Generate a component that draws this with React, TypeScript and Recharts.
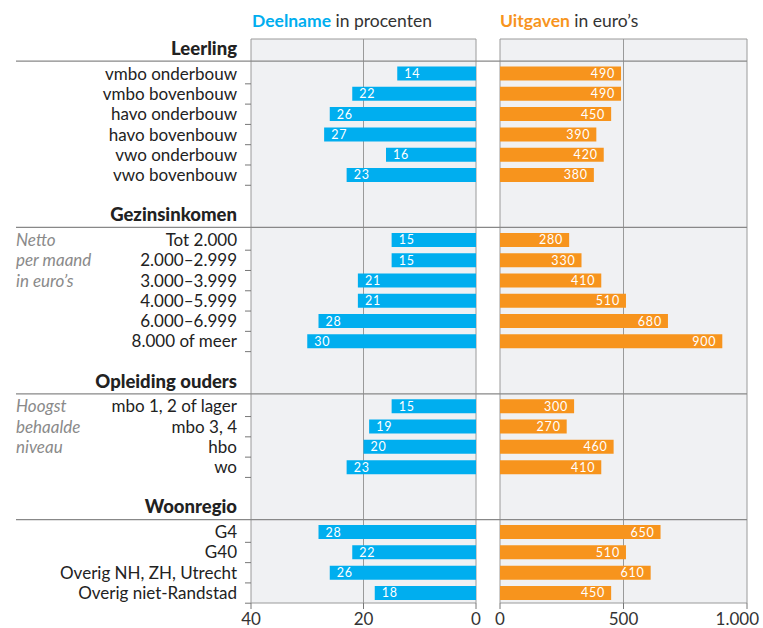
import React from 'react';
import { BarChart, Bar, XAxis, YAxis, CartesianGrid, ReferenceLine, LabelList } from 'recharts';

// groepen en waarden
const groupTitles = ['Leerling', 'Gezinsinkomen', 'Opleiding ouders', 'Woonregio'];

const leerlingLabels = ['vmbo onderbouw', 'vmbo bovenbouw', 'havo onderbouw', 'havo bovenbouw', 'vwo onderbouw', 'vwo bovenbouw'];
const leerlingDeelname = [14, 22, 26, 27, 16, 23];
const leerlingUitgaven = [490, 490, 450, 390, 420, 380];

const inkomenLabels = ['Tot 2.000', '2.000–2.999', '3.000–3.999', '4.000–5.999', '6.000–6.999', '8.000 of meer'];
const inkomenDeelname = [15, 15, 21, 21, 28, 30];
const inkomenUitgaven = [280, 330, 410, 510, 680, 900];

const opleidingLabels = ['mbo 1, 2 of lager', 'mbo 3, 4', 'hbo', 'wo'];
const opleidingDeelname = [15, 19, 20, 23];
const opleidingUitgaven = [300, 270, 460, 410];

const regioLabels = ['G4', 'G40', 'Overig NH, ZH, Utrecht', 'Overig niet-Randstad'];
const regioDeelname = [28, 22, 26, 18];
const regioUitgaven = [650, 510, 610, 450];

const inkomenNote = ['Netto', 'per maand', 'in euro’s'];
const opleidingNote = ['Hoogst', 'behaalde', 'niveau'];

const deelnameTicks = [0, 20, 40];
const uitgavenTicks = [0, 500, 1000];

// layout
const W = 763;
const H = 628;
const TOP = 39;
const BOTTOM = 25;
const PLOT_H = H - TOP - BOTTOM;
const FIRST = 1.71; // positie eerste rij (in rijen)
const GAP = 2.2; // witregel + kop tussen groepen
const DMAX = 27.8;
const ROW = PLOT_H / DMAX;

const BLUE = '#00aeef';
const ORANGE = '#f7941d';
const PANEL = '#f0f1f3';
const GRID = '#9a9a9a';
const TEXT = '#222';

const groups = [
  { title: groupTitles[0], labels: leerlingLabels, deelname: leerlingDeelname, uitgaven: leerlingUitgaven, note: [] as string[] },
  { title: groupTitles[1], labels: inkomenLabels, deelname: inkomenDeelname, uitgaven: inkomenUitgaven, note: inkomenNote },
  { title: groupTitles[2], labels: opleidingLabels, deelname: opleidingDeelname, uitgaven: opleidingUitgaven, note: opleidingNote },
  { title: groupTitles[3], labels: regioLabels, deelname: regioDeelname, uitgaven: regioUitgaven, note: [] as string[] },
];

const rows: { label: string; pos: number; deelname: number; uitgaven: number }[] = [];
const heads: { title: string; pos: number; note: string[] }[] = [];
let start = FIRST;
groups.forEach((g) => {
  heads.push({ title: g.title, pos: start, note: g.note });
  g.labels.forEach((label, i) => {
    rows.push({ label, pos: start + i, deelname: g.deelname[i], uitgaven: g.uitgaven[i] });
  });
  start += g.labels.length + GAP;
});
const rowTicks = rows.map((r) => r.pos);

const yPix = (p: number) => TOP + p * ROW;

function LeftTick(props: any) {
  const { x, y, payload } = props;
  const row = rows.find((r) => Math.abs(r.pos - payload.value) < 1e-6);
  return (
    <g>
      <text x={x - 14} y={y} dy="0.35em" textAnchor="end" fontSize={17} fill={TEXT}>
        {row ? row.label : ''}
      </text>
      <line x1={x - 6} x2={x} y1={y + ROW / 2} y2={y + ROW / 2} stroke="#777" />
    </g>
  );
}

function RightTick(props: any) {
  const { x, y } = props;
  return (
    <g>
      <line x1={x - 6} x2={x} y1={y + ROW / 2} y2={y + ROW / 2} stroke="#777" />
      <line x1={x - 24} x2={x - 18} y1={y + ROW / 2} y2={y + ROW / 2} stroke="#777" />
    </g>
  );
}

function EuroTick(props: any) {
  const { x, y, payload } = props;
  const v = payload.value as number;
  const label = v >= 1000 ? v.toLocaleString('nl-NL') : String(v);
  return (
    <text x={v >= 1000 ? x + 12 : x} y={y} dy="0.71em" textAnchor={v >= 1000 ? 'end' : 'middle'} fontSize={17} fill="#333">
      {label}
    </text>
  );
}

function box(p: any) {
  const vb = p.viewBox || {};
  const x = p.x ?? vb.x;
  const y = p.y ?? vb.y;
  const width = p.width ?? vb.width;
  const height = p.height ?? vb.height;
  return { x: Number(x), y: Number(y), width: Number(width), height: Number(height) };
}

function DeelnameLabel(p: any) {
  const b = box(p);
  const left = Math.min(b.x, b.x + b.width);
  return (
    <text x={left + 7} y={b.y + b.height / 2} dy="0.36em" fill="#fff" fontSize={12.5} letterSpacing={0.8}>
      {p.value}
    </text>
  );
}

function UitgavenLabel(p: any) {
  const b = box(p);
  const right = Math.max(b.x, b.x + b.width);
  return (
    <text x={right - 6} y={b.y + b.height / 2} dy="0.36em" fill="#fff" fontSize={12.5} textAnchor="end" letterSpacing={0.8}>
      {p.value}
    </text>
  );
}

export default function App() {
  return (
    <div style={{ position: 'absolute', left: 0, top: 0, width: W, height: H, background: '#fff', fontFamily: 'Lato, sans-serif' }}>
      {/* deelname, naar links */}
      <div style={{ position: 'absolute', left: 0, top: 0 }}>
        <BarChart width={488} height={H} data={rows} layout="vertical" margin={{ top: TOP, right: 12, bottom: 0, left: 0 }}>
          <CartesianGrid fill={PANEL} fillOpacity={1} stroke={GRID} horizontal={false} />
          <XAxis
            type="number"
            domain={[0, 40]}
            reversed
            ticks={deelnameTicks}
            interval={0}
            height={BOTTOM}
            axisLine={{ stroke: GRID }}
            tickLine={{ stroke: '#777' }}
            tickSize={6}
            tickMargin={4}
            tick={{ fontSize: 17, fill: '#333' }}
          />
          <YAxis
            type="number"
            dataKey="pos"
            domain={[0, DMAX]}
            allowDataOverflow
            ticks={rowTicks}
            interval={0}
            width={251}
            axisLine={false}
            tickLine={false}
            tickSize={0}
            tickMargin={0}
            tick={<LeftTick />}
          />
          <ReferenceLine y={0} stroke={GRID} />
          <Bar dataKey="deelname" fill={BLUE} barSize={14} isAnimationActive={false}>
            <LabelList dataKey="deelname" content={<DeelnameLabel />} />
          </Bar>
        </BarChart>
      </div>

      {/* uitgaven, naar rechts */}
      <div style={{ position: 'absolute', left: 476, top: 0 }}>
        <BarChart width={W - 476} height={H} data={rows} layout="vertical" margin={{ top: TOP, right: 16, bottom: 0, left: 24 }}>
          <CartesianGrid fill={PANEL} fillOpacity={1} stroke={GRID} horizontal={false} />
          <XAxis
            type="number"
            domain={[0, 1000]}
            ticks={uitgavenTicks}
            interval={0}
            height={BOTTOM}
            axisLine={{ stroke: GRID }}
            tickLine={{ stroke: '#777' }}
            tickSize={6}
            tickMargin={4}
            tick={<EuroTick />}
          />
          <YAxis
            type="number"
            dataKey="pos"
            domain={[0, DMAX]}
            allowDataOverflow
            ticks={rowTicks}
            interval={0}
            width={0}
            axisLine={false}
            tickLine={false}
            tickSize={0}
            tickMargin={0}
            tick={<RightTick />}
          />
          <ReferenceLine y={0} stroke={GRID} />
          <Bar dataKey="uitgaven" fill={ORANGE} barSize={14} isAnimationActive={false}>
            <LabelList dataKey="uitgaven" content={<UitgavenLabel />} />
          </Bar>
        </BarChart>
      </div>

      {/* koppen, scheidingslijnen en toelichting */}
      <svg width={W} height={H} style={{ position: 'absolute', left: 0, top: 0, pointerEvents: 'none' }}>
        <text x={252} y={21} dy="0.35em" fontSize={17.5} fill="#333">
          <tspan fontWeight="bold" fill={BLUE}>Deelname</tspan> in procenten
        </text>
        <text x={500} y={21} dy="0.35em" fontSize={17.5} fill="#333">
          <tspan fontWeight="bold" fill={ORANGE}>Uitgaven</tspan> in euro’s
        </text>
        {heads.map((h) => (
          <g key={h.title}>
            <text x={237} y={yPix(h.pos - 1.25)} dy="0.35em" textAnchor="end" fontSize={18.5} fontWeight={900} fill={TEXT}>
              {h.title}
            </text>
            <line x1={16} x2={747} y1={yPix(h.pos - 0.62)} y2={yPix(h.pos - 0.62)} stroke="#888" strokeWidth={1.2} />
            {h.note.map((n, i) => (
              <text key={n} x={16} y={yPix(h.pos + i)} dy="0.35em" fontSize={17} fontStyle="italic" fill="#8a8a8a">
                {n}
              </text>
            ))}
          </g>
        ))}
      </svg>
    </div>
  );
}
